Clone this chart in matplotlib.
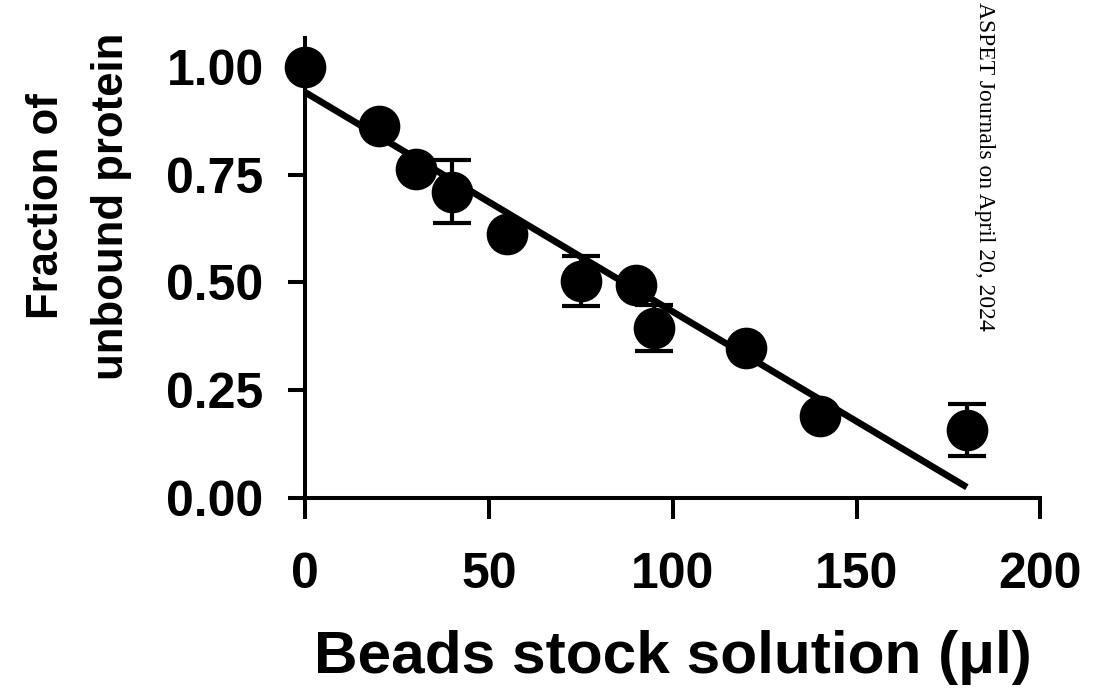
import numpy as np
import matplotlib
matplotlib.use("Agg")
import matplotlib.pyplot as plt

# beads volume (µl) vs fraction of unbound protein
beads = [0, 20, 30, 40, 55, 75, 90, 95, 120, 140, 180]
fraction = [1.00, 0.863, 0.763, 0.71, 0.613, 0.503, 0.494, 0.394, 0.348, 0.19, 0.158]
err = [0, 0, 0, 0.073, 0, 0.058, 0, 0.053, 0, 0, 0.06]

# linear fit line end points
fit_x = [0, 180]
fit_y = [0.941, 0.025]

xticks = [0, 50, 100, 150, 200]
yticks = [0.00, 0.25, 0.50, 0.75, 1.00]

plt.rcParams["font.family"] = ["Liberation Sans", "DejaVu Sans"]
plt.rcParams["font.weight"] = "bold"

fig = plt.figure(figsize=(10.94, 6.99), dpi=100)
ax = fig.add_axes([0.279, 0.2876, 0.672, 0.658])

ax.plot(fit_x, fit_y, color="black", linewidth=4.8, solid_capstyle="butt", zorder=2)
ax.errorbar(beads, fraction, yerr=err, fmt="none", ecolor="black",
            elinewidth=3, capsize=14, capthick=3, zorder=3, clip_on=False)
ax.plot(beads, fraction, "o", color="black", markersize=29, zorder=4, clip_on=False)

ax.set_xlim(0, 200)
ax.set_ylim(0, 1.067)
ax.set_xticks(xticks)
ax.set_yticks(yticks)
ax.set_yticklabels([f"{v:.2f}" for v in yticks])

for s in ["top", "right"]:
    ax.spines[s].set_visible(False)
for s in ["left", "bottom"]:
    ax.spines[s].set_linewidth(2.9)

ax.tick_params(axis="x", length=15, width=2.9, pad=24, labelsize=36)
ax.tick_params(axis="y", length=12, width=2.9, pad=18, labelsize=36)
for lab in ax.get_xticklabels() + ax.get_yticklabels():
    lab.set_fontweight("bold")

fig.text(0.615, 0.037, "Beads stock solution (μl)", fontsize=43.5, fontweight="bold",
         ha="center", va="baseline")
fig.text(0.072, 0.705, "Fraction of\nunbound protein", fontsize=31.5, fontweight="bold",
         rotation=90, ha="center", va="center", multialignment="center",
         linespacing=1.75)

fig.text(0.9, 0.997, "ASPET Journals on April 20, 2024", fontsize=17,
         family="Liberation Serif", fontweight="normal",
         rotation=270, ha="center", va="top")

fig.savefig("out.png", dpi=100)
